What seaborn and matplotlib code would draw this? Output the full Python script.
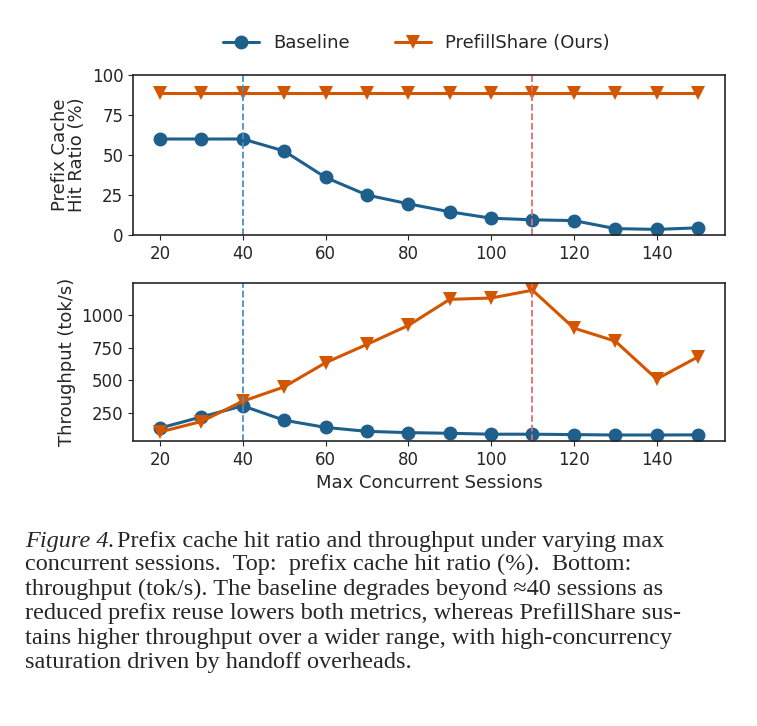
import numpy as np
import pandas as pd
import seaborn as sns
import matplotlib.pyplot as plt

sns.set_style("ticks")
plt.rcParams['font.family'] = 'sans-serif'
plt.rcParams['font.sans-serif'] = ['DejaVu Sans']

sessions = [20, 30, 40, 50, 60, 70, 80, 90, 100, 110, 120, 130, 140, 150]
hit_baseline = [60, 60, 60, 52.5, 36, 25, 19.5, 14.5, 10.5, 9.5, 9, 4, 3.5, 4.5]
hit_prefill = [89] * 14
tput_baseline = [135, 220, 305, 195, 140, 110, 100, 95, 88, 88, 85, 82, 82, 83]
tput_prefill = [105, 185, 340, 450, 635, 775, 920, 1120, 1130, 1190, 900, 800, 510, 680]
methods = ["Baseline", "PrefillShare (Ours)"]

blue = "#1f5f8b"
orange = "#d45500"

df = pd.concat([
    pd.DataFrame({"x": sessions, "hit": hit_baseline, "tput": tput_baseline, "method": methods[0]}),
    pd.DataFrame({"x": sessions, "hit": hit_prefill, "tput": tput_prefill, "method": methods[1]}),
])
pal = {methods[0]: blue, methods[1]: orange}
marks = {methods[0]: "o", methods[1]: "v"}

fig = plt.figure(figsize=(7.57, 7.26), dpi=100)
ax1 = fig.add_axes([133/757, 1-235/726, 592/757, 160/726])
ax2 = fig.add_axes([133/757, 1-441/726, 592/757, 158/726])

for ax, col in [(ax1, "hit"), (ax2, "tput")]:
    sns.lineplot(data=df, x="x", y=col, hue="method", style="method", palette=pal,
                 markers=marks, dashes=False, markersize=10, linewidth=2.2,
                 markeredgewidth=0, ax=ax, legend=(ax is ax1))
    ax.axvline(40, color="#4a90c8", ls="--", lw=1.3)
    ax.axvline(110, color="#e07070", ls="--", lw=1.3)
    ax.set_xticks(range(20, 151, 20))
    ax.tick_params(labelsize=12)
    for s in ax.spines.values():
        s.set_visible(True)
        s.set_linewidth(1.2)

ax1.set_ylim(0, 100)
ax1.set_yticks([0, 25, 50, 75, 100])
ax1.set_xlabel("")
ax1.set_ylabel("Prefix Cache\nHit Ratio (%)", fontsize=13, linespacing=0.95)
ax2.set_ylim(36, 1245)
ax2.set_yticks([250, 500, 750, 1000])
ax2.set_xlabel("Max Concurrent Sessions", fontsize=13)
ax2.set_ylabel("Throughput (tok/s)", fontsize=13)

h, l = ax1.get_legend_handles_labels()
ax1.get_legend().remove()
fig.legend(h, l, loc="center", bbox_to_anchor=(0.55, 1-43/726), ncol=2,
           frameon=False, fontsize=13, columnspacing=2.5)

cap = ("concurrent sessions.  Top:  prefix cache hit ratio (%).  Bottom:\n"
       "throughput (tok/s). The baseline degrades beyond \u224840 sessions as\n"
       "reduced prefix reuse lowers both metrics, whereas PrefillShare sus-\n"
       "tains higher throughput over a wider range, with high-concurrency\n"
       "saturation driven by handoff overheads.")
serif = ['Liberation Serif', 'DejaVu Serif']
fig.text(25/757, 1-541/726, "Figure 4.", fontsize=17.5, style="italic", family=serif, va="center")
fig.text(117/757, 1-541/726, "Prefix cache hit ratio and throughput under varying max",
         fontsize=17.5, family=serif, va="center")
fig.text(25/757, 1-554/726, cap, fontsize=17.5, family=serif, va="top", linespacing=1.22)

fig.savefig("out.png", dpi=100)
